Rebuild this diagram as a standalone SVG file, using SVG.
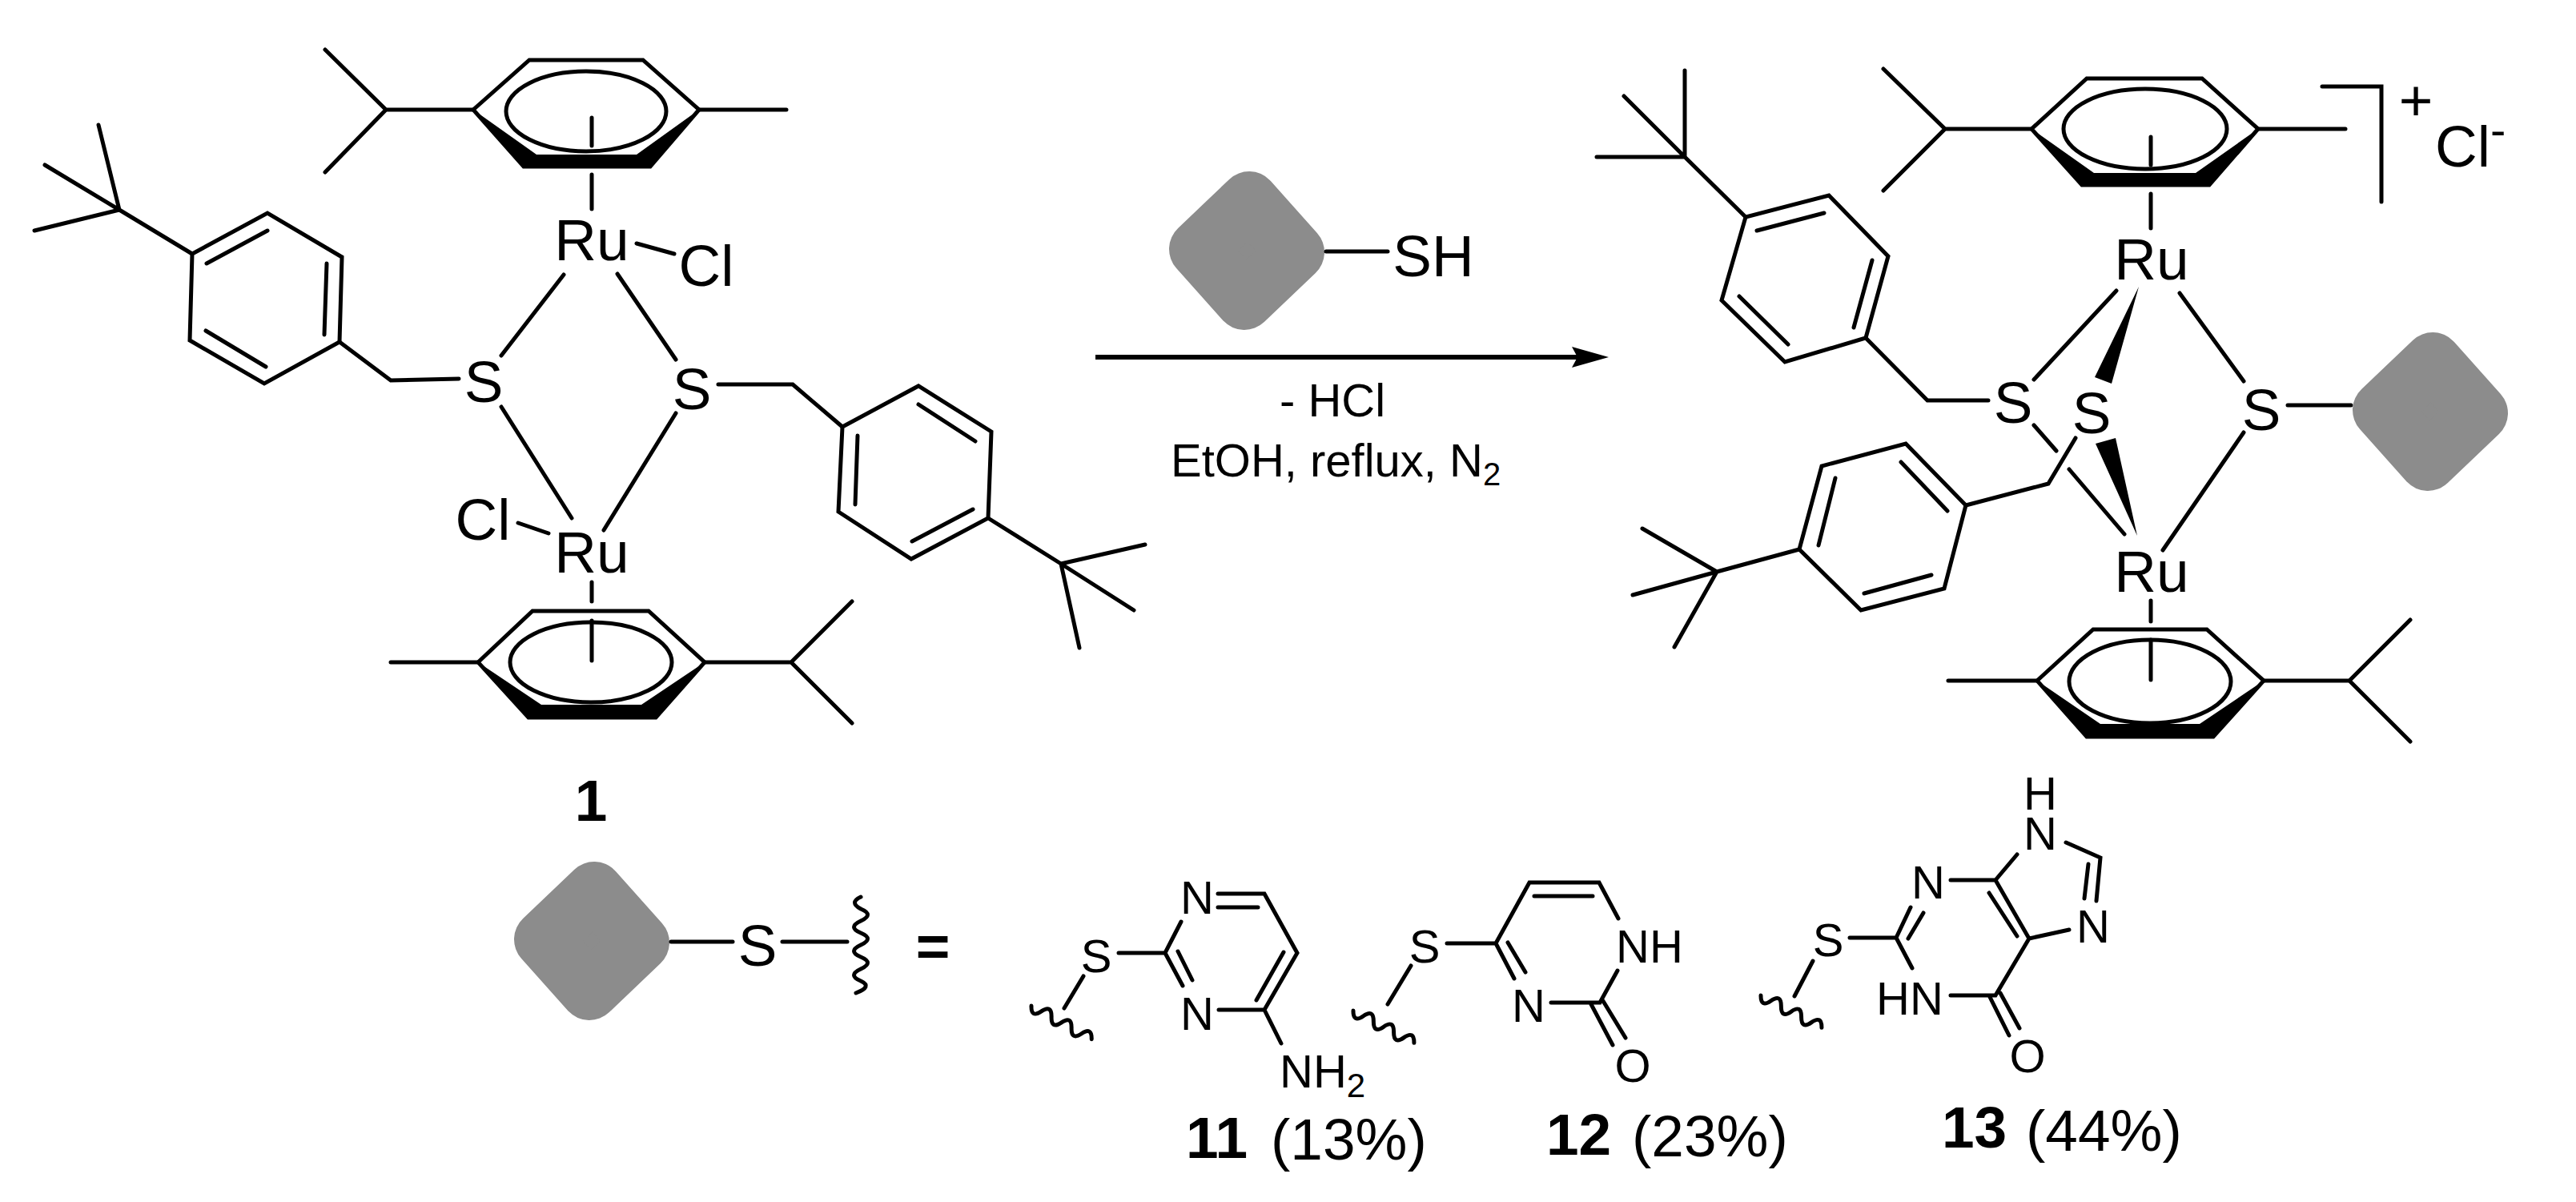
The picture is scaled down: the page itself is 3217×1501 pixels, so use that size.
<svg xmlns="http://www.w3.org/2000/svg" xmlns:xlink="http://www.w3.org/1999/xlink" width="3217" height="1501" viewBox="0 0 3217 1501">
<style>
text{font-family:"Liberation Sans",Arial,sans-serif;fill:#000}
.a{font-size:73px;text-anchor:middle}
.s{font-size:58px;text-anchor:middle}
.r{font-size:58px}
.l{font-size:73px}
.b{font-weight:bold}
.n{font-size:42px}
.bond{fill:none;stroke:#000;stroke-width:5;stroke-linejoin:miter;stroke-linecap:round}
.thin{fill:none;stroke:#000;stroke-width:5}
.solid{fill:#000;stroke:none}
.rg{fill:#8c8c8c;stroke:#8c8c8c;stroke-width:72;stroke-linejoin:round}
</style>
<defs>
<polygon id="rgroup" class="rg" points="3,-63 61,2 -3,63 -61,-2"/>
<path id="wave" class="bond" d="M0 0Q7.2 14 14.3 0T28.7 0T43 0T57.3 0T71.7 0T86 0"/>
<marker id="head" viewBox="0 0 46 26" markerUnits="userSpaceOnUse" markerWidth="46" markerHeight="26" refX="7" refY="13" orient="auto"><path class="solid" d="M0 0L46 13L0 26L7 13Z"/></marker>
</defs>
<rect width="3217" height="1501" fill="#fff"/>

<g id="compound-1">
<path class="bond" d="M591 137L661 75H803L873 137L812 208H654Z"/>
<path class="solid" d="M591 137L654 208H812L873 137L795 193H670Z"/>
<ellipse class="thin" cx="732" cy="139" rx="100" ry="50"/>
<path class="bond" d="M406 62L482 137L406 215M482 137H591M873 137H982M739 147V182M739 218V261M795 304L842 317M704 343L626 444M771 342L844 449M626 508L714 647M844 516L754 662M573 473L488 475L424 427M897 480H990L1052 533"/>
<path class="bond" d="M424 427L427 321L334 266L240 317L237 425L330 479Z"/>
<path class="bond" d="M408 329L405 418M334 288L258 329M257 413L332 458M240 317L149 262M123 156L149 262M56 206L149 262M43 288L149 262"/>
<path class="bond" d="M1052 533L1147 482L1238 539L1234 647L1138 698L1047 639Z"/>
<path class="bond" d="M1071 544L1068 630M1147 505L1218 551M1215 636L1139 676M1234 647L1325 704M1348 809L1325 704M1416 762L1325 704M1430 680L1325 704"/>
<path class="bond" d="M647 653L685 666M739 727V751M739 775V825M488 827H597M880 827H988M1064 751L988 827L1064 903"/>
<path class="bond" d="M597 827L665 763H810L880 827L819 896H660Z"/>
<path class="solid" d="M597 827L660 896H819L880 827L801 880H676Z"/>
<ellipse class="thin" cx="738" cy="827" rx="101" ry="50"/>
<text class="a" x="739" y="325">Ru</text>
<text class="a" x="882" y="357">Cl</text>
<text class="a" x="604" y="502">S</text>
<text class="a" x="864" y="511">S</text>
<text class="a" x="603" y="674">Cl</text>
<text class="a" x="739" y="715">Ru</text>
<text class="a b" x="738" y="1025">1</text>
</g>

<g id="reagent-thiol">
<use xlink:href="#rgroup" href="#rgroup" x="1557" y="313"/>
<path class="bond" d="M1656 314H1733"/>
<text class="a" x="1790" y="345">SH</text>
</g>

<g id="conditions">
<text class="s" x="1664" y="520">- HCl</text>
<text class="r" x="1462" y="595">EtOH, reflux, N<tspan font-size="40" dy="11">2</tspan></text>
</g>

<g id="connectors">
<path d="M1368 446H1970" fill="none" stroke="#000" stroke-width="6" marker-end="url(#head)"/>
</g>

<g id="product">
<path class="bond" d="M2537 161L2606 98H2750L2820 161L2759 231H2600Z"/>
<path class="solid" d="M2537 161L2600 231H2759L2820 161L2742 216H2615Z"/>
<ellipse class="thin" cx="2679" cy="161" rx="102" ry="50"/>
<path class="bond" d="M2352 86L2429 161L2352 238M2429 161H2537M2820 161H2929M2900 108H2974V252M2686 171V206M2686 242V285"/>
<path class="bond" d="M2643 363L2540 474M2722 366L2802 476M2802 540L2701 687M2540 531L2568 563M2584 586L2653 667M2483 500H2407L2330 422M2592 547L2558 604L2455 631M2857 506H2936"/>
<path class="solid" d="M2671 358L2616 471L2637 479ZM2669 669L2617 554L2642 547Z"/>
<path class="bond" d="M2330 422L2358 320L2284 244L2180 271L2150 375L2229 452Z"/>
<path class="bond" d="M2338 325L2315 409M2278 266L2194 288M2172 370L2233 430M2180 271L2104 196M2104 88V196M2028 120L2104 196M1994 196H2104"/>
<path class="bond" d="M2455 631L2380 554L2275 582L2247 686L2324 762L2428 735Z"/>
<path class="bond" d="M2374 577L2432 638M2292 597L2271 681M2328 741L2412 718M2247 686L2144 714M2051 660L2144 714M2039 743L2144 714M2091 808L2144 714"/>
<path class="bond" d="M2686 750V776M2686 799V849M2433 850H2544M2827 850H2934M3010 774L2934 850L3010 926"/>
<path class="bond" d="M2544 850L2614 786H2756L2827 850L2764 920H2606Z"/>
<path class="solid" d="M2544 850L2606 920H2764L2827 850L2747 904H2623Z"/>
<ellipse class="thin" cx="2685" cy="851" rx="101" ry="52"/>
<use xlink:href="#rgroup" href="#rgroup" x="3035" y="514"/>
<text class="a" x="2687" y="349">Ru</text>
<text class="a" x="2514" y="528">S</text>
<text class="a" x="2612" y="541">S</text>
<text class="a" x="2824" y="537">S</text>
<text class="a" x="2687" y="739">Ru</text>
<text class="a" x="3017" y="150">+</text>
<text class="l" x="3041" y="208">Cl<tspan font-size="58" dy="-26">-</tspan></text>
</g>

<g id="r-group-legend">
<use xlink:href="#rgroup" href="#rgroup" x="739" y="1175"/>
<path class="bond" d="M838 1176H915M977 1176H1058"/>
<path class="bond" d="M1075 1120Q1060 1127 1075 1135Q1092 1142 1075 1150T1075 1165T1075 1180T1075 1195T1075 1210T1075 1225Q1090 1232 1069 1240"/>
<text class="a" x="946" y="1206">S</text>
<text class="a b" x="1165" y="1206">=</text>
</g>

<g id="compound-11">
<use xlink:href="#wave" href="#wave" transform="translate(1288 1256) rotate(29)"/>
<path class="bond" d="M1353 1219L1329 1259M1397 1190H1455L1475 1151M1455 1190L1477 1231M1471 1188L1489 1224M1521 1116H1579L1620 1190L1579 1261H1522M1521 1133H1571M1603 1189L1569 1249M1579 1261L1600 1303"/>
<text class="s" x="1369" y="1214">S</text>
<text class="s" x="1495" y="1141">N</text>
<text class="s" x="1495" y="1286">N</text>
<text class="r" x="1598" y="1358">NH<tspan class="n" dy="12">2</tspan></text>
<text class="l" x="1481" y="1446"><tspan class="b">11</tspan> <tspan x="1587" dy="2">(13%)</tspan></text>
</g>

<g id="compound-12">
<use xlink:href="#wave" href="#wave" transform="translate(1690 1262) rotate(28)"/>
<path class="bond" d="M1762 1206L1733 1254M1807 1178H1868L1910 1102H1997L2021 1147M1916 1119H1989M1868 1178L1891 1222M1883 1177L1905 1214M2020 1212L1998 1252H1937M1987 1254L2014 1305M2002 1250L2030 1296"/>
<text class="s" x="1779" y="1202">S</text>
<text class="s" x="2060" y="1202">NH</text>
<text class="s" x="1909" y="1276">N</text>
<text class="s" x="2039" y="1351">O</text>
<text class="l" x="1931" y="1442"><tspan class="b">12</tspan> <tspan x="2038" dy="2">(23%)</tspan></text>
</g>

<g id="compound-13">
<use xlink:href="#wave" href="#wave" transform="translate(2199 1243) rotate(28)"/>
<path class="bond" d="M2264 1200L2241 1244M2310 1171H2368L2386 1133M2383 1172L2402 1140M2368 1171L2388 1209M2436 1099H2492L2534 1172L2492 1243H2436M2484 1115L2519 1169M2492 1099L2519 1067M2580 1052L2623 1071L2618 1125M2608 1079L2603 1122M2534 1172L2584 1161M2484 1243L2509 1293M2498 1240L2522 1284"/>
<text class="s" x="2283" y="1194">S</text>
<text class="s" x="2408" y="1122">N</text>
<text class="s" x="2548" y="1011">H</text>
<text class="s" x="2548" y="1061">N</text>
<text class="s" x="2614" y="1177">N</text>
<text class="s" x="2385" y="1267">HN</text>
<text class="s" x="2532" y="1339">O</text>
<text class="l" x="2425" y="1433"><tspan class="b">13</tspan> <tspan x="2530" dy="4">(44%)</tspan></text>
</g>
</svg>
